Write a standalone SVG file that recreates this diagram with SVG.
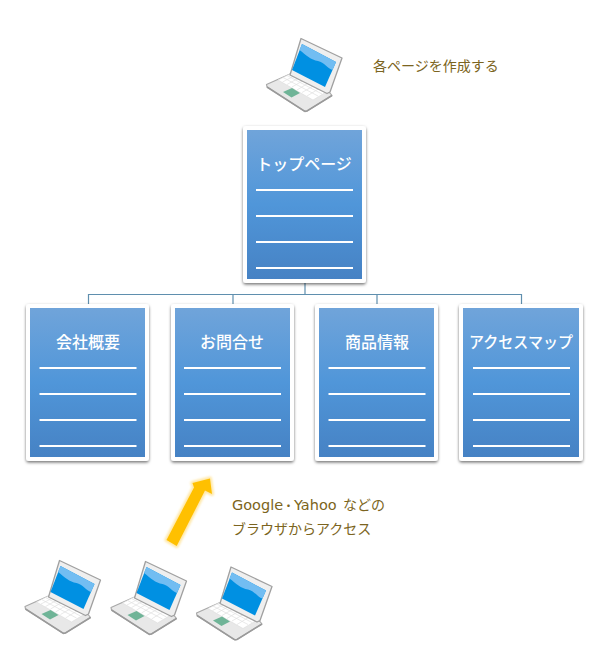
<svg xmlns="http://www.w3.org/2000/svg" width="605" height="665" viewBox="0 0 605 665">
<style>
.card{fill:#fff;filter:url(#sh)}
.inner{fill:url(#cg)}
.ln{stroke:#fff;stroke-width:2;fill:none}
.title{font-family:"Noto Sans CJK JP","Noto Sans",sans-serif;font-size:16px;font-weight:500;fill:#fff;text-anchor:middle}
.note{font-family:"Noto Sans CJK JP","Noto Sans",sans-serif;font-size:14px;fill:#7b6420}
.lat{font-family:"DejaVu Sans",sans-serif;font-size:14.500px}
.dot{font-size:9px;font-weight:900}
.conn{stroke:#5f8fae;stroke-width:1.2;fill:none}
</style>
<defs>
<linearGradient id="cg" x1="0" y1="0" x2="0" y2="1"><stop offset="0" stop-color="#70a4da"/><stop offset="0.5" stop-color="#5096d9"/><stop offset="1" stop-color="#4682c4"/></linearGradient>
<filter id="sh" x="-10%" y="-10%" width="120%" height="120%"><feDropShadow dx="0" dy="1.5" stdDeviation="1.5" flood-color="#000" flood-opacity="0.55"/></filter>
<filter id="gl" x="-30%" y="-30%" width="160%" height="160%"><feGaussianBlur stdDeviation="1.2"/></filter>
<g id="laptop">
<path d="M0.5 46.500L24 36 64 55 66 57.500 41 73 38 73 1 49Z" fill="#e8e8e8" stroke="#a8a8a8" stroke-width="1.2" stroke-linejoin="round"/>
<path d="M1 49L39 73.500 41 73 66 57.500" fill="none" stroke="#9a9a9a" stroke-width="1.5"/>
<path d="M12 42L26 35 62 53 47 62Z" fill="#fff" stroke="#dcdcdc" stroke-width="0.6"/>
<path d="M17 39.500L52 58M21 37.500L56 56M16.500 44L30 37M21 46.500L34.500 39M26 49L39 41.500M31 52L44 44M36 54.500L49 47M41 58L54 50" fill="none" stroke="#e0e0e0" stroke-width="0.7"/>
<path d="M17 54L26 50 34 55 25.500 59.500Z" fill="#6fb497"/>
<path d="M35 0.500L76 20 64 54 61 55.500 24 37Z" fill="#efefef" stroke="#a0a0a0" stroke-width="1.3" stroke-linejoin="round"/>
<path d="M36 6L70 24 59 49 26 32Z" fill="#0090e2"/>
<path d="M36 6L70 24 66.500 32C62 31 58 24 52 23 45 22 40 17 33.500 12Z" fill="#72bdf2"/>
</g>
</defs>
<g id="connectors">
<path class="conn" d="M305 283V294.500M88.500 304V294.500H521.500V304M233 294.500V304M377 294.500V304"/>
</g>
<g id="laptop-top"><use href="#laptop" x="266" y="38"/></g>
<text id="note-top" class="note" x="373" y="71">各ページを作成する</text>
<g id="top-page">
<rect class="card" x="243" y="126" width="123" height="157" rx="3"/>
<rect class="inner" x="247" y="130" width="115" height="149"/>
<path class="ln" d="M256 190H353M256 216H353M256 242H353M256 268H353"/>
<text class="title" x="304" y="170">トップページ</text>
</g>
<g id="page-company">
<rect class="card" x="26" y="304" width="123" height="157" rx="3"/>
<rect class="inner" x="30" y="308" width="115" height="149"/>
<path class="ln" d="M39.500 368H136.500M39.500 394H136.500M39.500 420H136.500M39.500 446H136.500"/>
<text class="title" x="88" y="348">会社概要</text>
</g>
<g id="page-contact">
<rect class="card" x="171" y="304" width="123" height="157" rx="3"/>
<rect class="inner" x="175" y="308" width="115" height="149"/>
<path class="ln" d="M184 368H281M184 394H281M184 420H281M184 446H281"/>
<text class="title" x="232" y="348">お問合せ</text>
</g>
<g id="page-products">
<rect class="card" x="315" y="304" width="123" height="157" rx="3"/>
<rect class="inner" x="319" y="308" width="115" height="149"/>
<path class="ln" d="M328.500 368H425.500M328.500 394H425.500M328.500 420H425.500M328.500 446H425.500"/>
<text class="title" x="377" y="348">商品情報</text>
</g>
<g id="page-access">
<rect class="card" x="459" y="304" width="124" height="157" rx="3"/>
<rect class="inner" x="463" y="308" width="116" height="149"/>
<path class="ln" d="M473 368H570M473 394H570M473 420H570M473 446H570"/>
<text class="title" x="521" y="348" textLength="104" lengthAdjust="spacingAndGlyphs">アクセスマップ</text>
</g>
<g id="arrow">
<path d="M210 478.500L212 494 205 490.500 176.700 546 166.500 540 194 487.500 192.500 483Z" fill="#ffe08a" stroke="#ffe08a" stroke-width="4" stroke-linejoin="round" filter="url(#gl)" opacity="0.75"/>
<path d="M210 478.500L212 494 205 490.500 176.700 546 166.500 540 194 487.500 192.500 483Z" fill="#ffc000"/>
</g>
<g id="note-access">
<text class="note" y="510"><tspan class="lat" x="232">Google</tspan><tspan class="dot" x="284" y="508.500">・</tspan><tspan class="lat" x="294" y="510">Yahoo</tspan><tspan x="343" y="510">などの</tspan></text>
<text class="note" x="232" y="534">ブラウザからアクセス</text>
</g>
<g id="laptop-1"><use href="#laptop" x="24.500" y="560"/></g>
<g id="laptop-2"><use href="#laptop" x="110.500" y="561"/></g>
<g id="laptop-3"><use href="#laptop" x="196" y="566.500"/></g>
</svg>
